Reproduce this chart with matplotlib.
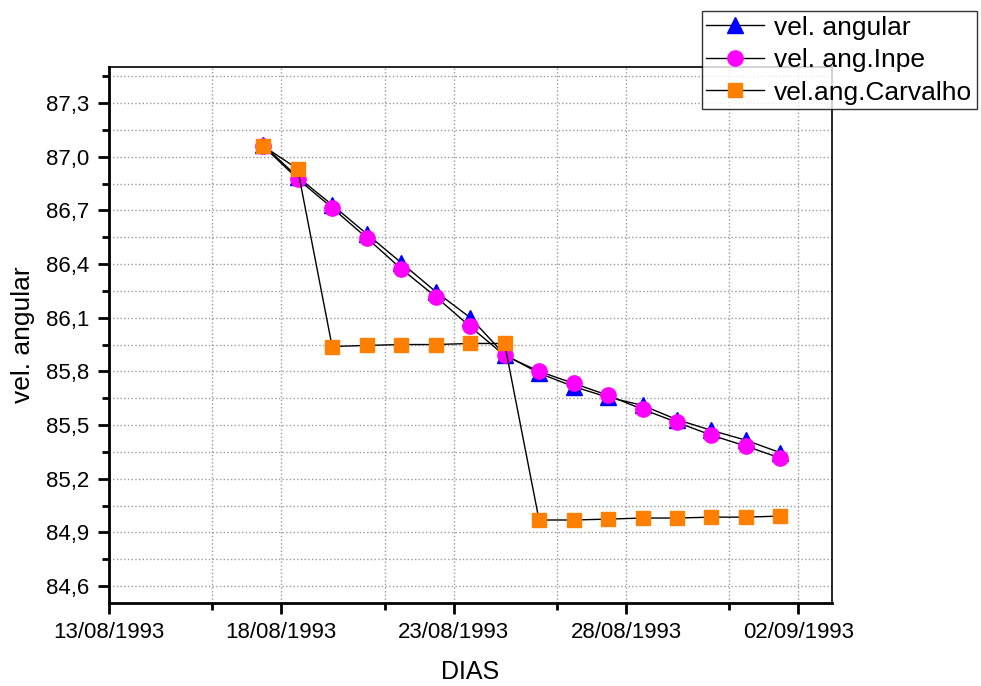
import datetime as dt
import matplotlib
matplotlib.use("Agg")
from matplotlib import pyplot as plt
import matplotlib.dates as mdates
from matplotlib.ticker import MultipleLocator, FuncFormatter, FixedLocator

plt.rcParams['font.family'] = ['Liberation Sans', 'DejaVu Sans']

start = dt.datetime(1993, 8, 17, 11, 30)
dias = [start + dt.timedelta(days=i) for i in range(16)]

vel_angular = [87.066, 86.887, 86.731, 86.569, 86.408, 86.246, 86.101, 85.894,
               85.790, 85.715, 85.655, 85.610, 85.530, 85.470, 85.415, 85.345]
vel_inpe = [87.060, 86.876, 86.714, 86.547, 86.374, 86.218, 86.051, 85.889,
            85.800, 85.733, 85.666, 85.588, 85.515, 85.443, 85.382, 85.315]
vel_carvalho = [87.060, 86.932, 85.939, 85.945, 85.950, 85.950, 85.956, 85.956,
                84.969, 84.969, 84.974, 84.980, 84.980, 84.985, 84.985, 84.991]

x_ticks = [dt.datetime(1993, 8, 13), dt.datetime(1993, 8, 18), dt.datetime(1993, 8, 23),
           dt.datetime(1993, 8, 28), dt.datetime(1993, 9, 2)]
x_minor = [dt.datetime(1993, 8, 16), dt.datetime(1993, 8, 21), dt.datetime(1993, 8, 26),
           dt.datetime(1993, 8, 31)]

fig = plt.figure(figsize=(9.81, 6.86), dpi=100)
ax = fig.add_axes([0.1108, 0.121, 0.7372, 0.7809])

ax.plot(dias, vel_angular, color='black', lw=1, marker='^', ms=11.5,
        mfc='blue', mec='blue', label='vel. angular', zorder=3)
ax.plot(dias, vel_inpe, color='black', lw=1, marker='o', ms=11,
        mfc='#ff00ff', mec='#ff00ff', label='vel. ang.Inpe', zorder=4)
ax.plot(dias, vel_carvalho, color='black', lw=1, marker='s', ms=9.5,
        mfc='#ff8000', mec='#ff8000', label='vel.ang.Carvalho', zorder=5)

ax.set_xlim(dt.datetime(1993, 8, 13), dt.datetime(1993, 8, 13) + dt.timedelta(days=20.97))
ax.set_ylim(84.505, 87.5)

ax.xaxis.set_major_locator(FixedLocator(mdates.date2num(x_ticks)))
ax.xaxis.set_minor_locator(FixedLocator(mdates.date2num(x_minor)))
ax.xaxis.set_major_formatter(mdates.DateFormatter('%d/%m/%Y'))
ax.yaxis.set_major_locator(MultipleLocator(0.3))
ax.yaxis.set_minor_locator(MultipleLocator(0.15))
ax.yaxis.set_major_formatter(FuncFormatter(lambda v, p: f"{v:.1f}".replace('.', ',')))

ax.grid(True, which='both', color='0.6', linestyle=':', lw=1)
ax.set_axisbelow(True)

for s in ['left', 'bottom']:
    ax.spines[s].set_linewidth(2)
for s in ['top', 'right']:
    ax.spines[s].set_linewidth(1.2)

ax.tick_params(which='major', direction='out', length=8, width=2, labelsize=16, pad=6)
ax.tick_params(which='minor', direction='out', length=5, width=2)

ax.set_xlabel('DIAS', fontsize=18, labelpad=12)
ax.set_ylabel('vel. angular', fontsize=19, labelpad=8)

leg = fig.legend(loc='upper right', bbox_to_anchor=(0.9955, 0.984), fontsize=19,
                 frameon=True, fancybox=False, edgecolor='black', handlelength=2.2,
                 handletextpad=0.35, borderpad=0.18, labelspacing=0.32, borderaxespad=0)
leg.get_frame().set_linewidth(1)

fig.savefig('out.png', dpi=100)
